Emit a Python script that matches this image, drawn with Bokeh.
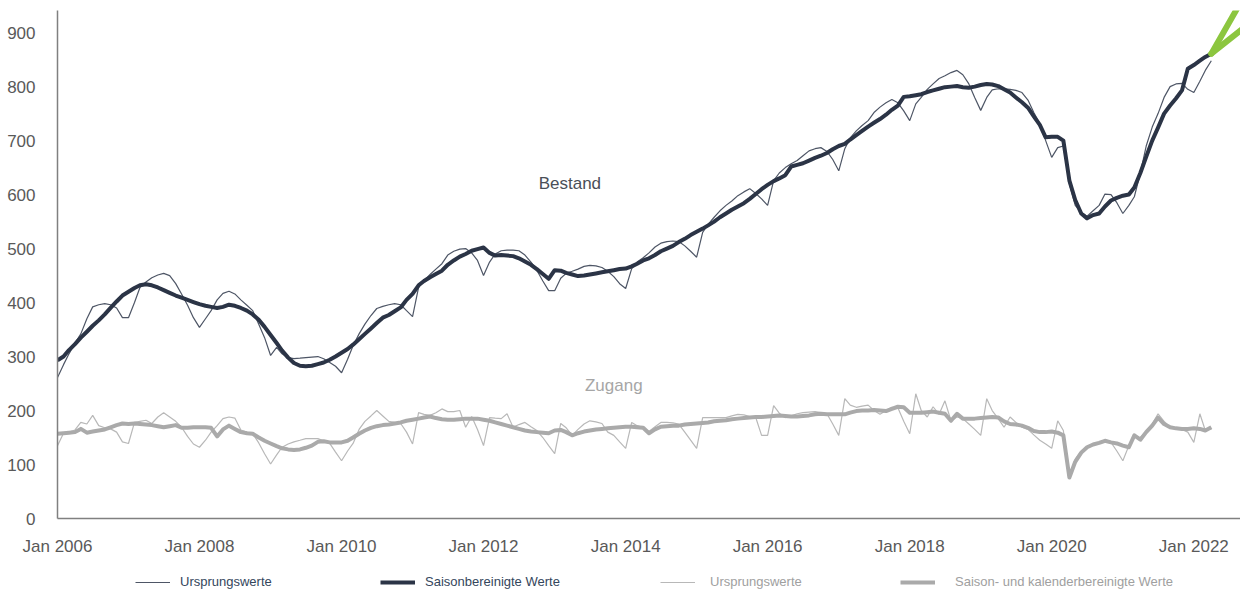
import pandas as pd
from datetime import datetime
from bokeh.plotting import figure
from bokeh.layouts import column
from bokeh.models import (FixedTicker, DatetimeTickFormatter, Legend, LegendItem,
                          Label, Range1d)
from bokeh.embed import file_html
from bokeh.resources import INLINE

# ---------------- data (monthly, Jan 2006 .. Apr 2022) ----------------
first_month = "2006-01-01"

# Bestand, saisonbereinigte Werte
bestand_sa = [
    293, 300, 312, 323, 335, 346, 357, 367, 378, 390, 402, 413,   # 2006
    420, 427, 432, 434, 432, 428, 423, 418, 413, 409, 405, 401,   # 2007
    397, 394, 392, 390, 392, 396, 394, 390, 385, 378, 368, 355,   # 2008
    340, 325, 311, 298, 288, 283, 282, 283, 286, 289, 294, 300,   # 2009
    307, 314, 322, 332, 342, 352, 362, 372, 377, 384, 391, 405,   # 2010
    416, 432, 440, 447, 453, 459, 470, 478, 485, 490, 496, 499,   # 2011
    502, 492, 487, 488, 487, 486, 482, 476, 470, 462, 453, 444,   # 2012
    460, 459, 455, 452, 449, 450, 452, 454, 456, 458, 460, 462,   # 2013
    463, 467, 472, 478, 482, 488, 495, 500, 505, 512, 518, 525,   # 2014
    531, 537, 543, 550, 558, 565, 572, 578, 584, 592, 601, 610,   # 2015
    618, 625, 630, 636, 652, 655, 658, 663, 668, 672, 677, 684,   # 2016
    690, 694, 702, 710, 718, 726, 733, 740, 748, 757, 765, 781,   # 2017
    782, 784, 786, 790, 793, 796, 799, 800, 801, 799, 798, 800,   # 2018
    803, 805, 804, 801, 795, 789, 780, 771, 761, 745, 729, 706,   # 2019
    707, 707, 700, 626, 590, 565, 556, 562, 565, 578, 589, 594,   # 2020
    598, 600, 613, 640, 670, 700, 724, 750, 765, 778, 793, 833,   # 2021
    840, 848, 855, 861,                                           # 2022
]

# Bestand, Ursprungswerte
bestand_orig = [
    261, 285, 305, 325, 342, 370, 392, 396, 398, 396, 390, 372,   # 2006
    372, 400, 428, 438, 446, 451, 454, 450, 435, 416, 395, 372,   # 2007
    354, 370, 385, 405, 417, 421, 416, 405, 395, 385, 360, 335,   # 2008
    302, 317, 305, 298, 296, 297, 298, 299, 300, 296, 289, 282,   # 2009
    270, 295, 320, 342, 360, 376, 389, 393, 396, 398, 396, 385,   # 2010
    374, 428, 440, 452, 462, 472, 488, 495, 499, 500, 492, 478,   # 2011
    450, 475, 490, 496, 497, 497, 496, 488, 475, 460, 440, 422,   # 2012
    422, 445, 454, 458, 462, 467, 469, 468, 465, 458, 448, 435,   # 2013
    426, 463, 475, 483, 492, 503, 510, 513, 514, 513, 505, 495,   # 2014
    484, 530, 545, 558, 570, 580, 588, 598, 605, 611, 602, 592,   # 2015
    580, 626, 640, 650, 657, 663, 672, 681, 685, 687, 680, 665,   # 2016
    644, 685, 705, 718, 728, 737, 752, 762, 770, 776, 770, 755,   # 2017
    737, 768, 780, 795, 805, 815, 820, 826, 830, 822, 805, 780,   # 2018
    756, 780, 794, 796, 796, 795, 793, 789, 775, 752, 731, 700,   # 2019
    669, 687, 690, 620, 580, 567, 560, 570, 580, 601, 600, 585,   # 2020
    565, 580, 596, 640, 690, 725, 750, 780, 800, 805, 806, 795,   # 2021
    789, 810, 830, 848,                                           # 2022
]

# Zugang, saison- und kalenderbereinigte Werte
zugang_sa = [
    157, 158, 159, 160, 166, 159, 161, 163, 165, 169, 173, 176,   # 2006
    175, 176, 175, 174, 173, 171, 169, 171, 173, 168, 168, 169,   # 2007
    169, 169, 168, 152, 165, 172, 166, 160, 158, 157, 150, 144,   # 2008
    139, 134, 130, 128, 127, 128, 131, 135, 142, 143, 141, 141,   # 2009
    141, 144, 150, 157, 163, 168, 171, 173, 174, 176, 178, 181,   # 2010
    183, 185, 187, 189, 186, 184, 183, 183, 184, 185, 185, 185,   # 2011
    183, 181, 178, 175, 172, 169, 166, 163, 161, 160, 159, 158,   # 2012
    163, 164, 160, 154, 158, 161, 163, 165, 166, 167, 168, 169,   # 2013
    170, 170, 169, 168, 158, 165, 170, 171, 172, 172, 174, 175,   # 2014
    176, 177, 178, 180, 181, 182, 184, 185, 186, 187, 188, 188,   # 2015
    189, 190, 191, 190, 189, 189, 190, 191, 193, 194, 193, 193,   # 2016
    193, 193, 196, 199, 200, 200, 201, 200, 199, 203, 207, 206,   # 2017
    196, 196, 196, 197, 198, 196, 194, 181, 194, 185, 185, 185,   # 2018
    186, 187, 188, 187, 180, 175, 174, 172, 168, 162, 160, 160,   # 2019
    161, 159, 154, 76, 105, 122, 132, 137, 140, 144, 141, 139,    # 2020
    135, 132, 154, 146, 160, 172, 187, 175, 169, 167, 166, 166,   # 2021
    167, 166, 163, 169,                                           # 2022
]

# Zugang, Ursprungswerte
zugang_orig = [
    135, 158, 160, 164, 178, 175, 191, 172, 168, 166, 160, 142,   # 2006
    139, 178, 180, 182, 176, 188, 196, 188, 180, 169, 152, 138,   # 2007
    132, 145, 160, 172, 185, 188, 186, 164, 160, 157, 140, 120,   # 2008
    101, 118, 132, 138, 142, 145, 148, 148, 148, 144, 139, 123,   # 2009
    107, 125, 139, 165, 180, 190, 200, 190, 180, 178, 176, 160,   # 2010
    138, 196, 193, 191, 196, 203, 198, 198, 200, 169, 189, 165,   # 2011
    135, 187, 186, 185, 194, 169, 174, 178, 170, 163, 150, 135,   # 2012
    120, 176, 168, 154, 165, 175, 181, 179, 176, 160, 154, 142,   # 2013
    130, 178, 172, 168, 161, 170, 178, 178, 177, 175, 160, 145,   # 2014
    130, 187, 187, 187, 187, 187, 190, 193, 192, 189, 187, 154,   # 2015
    154, 209, 195, 187, 190, 194, 196, 197, 198, 196, 194, 175,   # 2016
    154, 222, 210, 206, 208, 210, 200, 193, 200, 206, 205, 180,   # 2017
    157, 231, 200, 188, 207, 193, 218, 181, 188, 185, 175, 165,   # 2018
    154, 222, 200, 185, 169, 188, 178, 169, 165, 155, 145, 138,   # 2019
    130, 181, 163, 76, 110, 125, 133, 138, 141, 145, 141, 125,    # 2020
    107, 135, 151, 150, 162, 175, 194, 180, 169, 167, 165, 160,   # 2021
    141, 194, 163, 166,                                           # 2022
]

tick_years = [2006, 2008, 2010, 2012, 2014, 2016, 2018, 2020, 2022]
y_ticks = [0, 100, 200, 300, 400, 500, 600, 700, 800, 900]

legend_labels = ["Ursprungswerte", "Saisonbereinigte Werte",
                 "Ursprungswerte", "Saison- und kalenderbereinigte Werte"]

# ---------------- styling ----------------
C_BEST_SA = "#2b3446"
C_BEST_OR = "#4e5666"
C_ZUG_SA = "#aaaaaa"
C_ZUG_OR = "#b8b8b8"
C_AXIS = "#808080"
C_TICK = "#595959"
FONT = "Liberation Sans"

dates = pd.date_range(first_month, periods=len(bestand_sa), freq="MS")


def ms(ts):
    return pd.Timestamp(ts).timestamp() * 1000.0


p = figure(width=1240, height=566, x_axis_type="datetime",
           output_backend="svg", toolbar_location=None,
           x_range=Range1d(datetime(2006, 1, 1), datetime(2022, 8, 29)),
           y_range=Range1d(0, 941),
           min_border_left=57, min_border_right=0,
           min_border_top=10, min_border_bottom=48)
p.outline_line_color = None
p.grid.visible = False
p.background_fill_color = "white"
p.border_fill_color = "white"

r_zor = p.line(dates, zugang_orig, line_color=C_ZUG_OR, line_width=1.2)
r_zsa = p.line(dates, zugang_sa, line_color=C_ZUG_SA, line_width=4,
               line_join="round")
r_bor = p.line(dates, bestand_orig, line_color=C_BEST_OR, line_width=1.2)
r_bsa = p.line(dates, bestand_sa, line_color=C_BEST_SA, line_width=4,
               line_join="round")

# green pointer at the end of the Bestand series
last_d = dates[-1]
last_v = bestand_sa[-1]
arm_d = last_d + pd.DateOffset(months=8)
p.segment(x0=[last_d, last_d], y0=[last_v, last_v],
          x1=[arm_d, arm_d], y1=[last_v + 154, last_v + 70],
          line_color="#8cc63f", line_width=6, line_cap="round")

# axes
for ax in (p.xaxis, p.yaxis):
    ax.axis_line_color = C_AXIS
    ax.axis_line_width = 1.5
    ax.major_tick_line_color = None
    ax.minor_tick_line_color = None
    ax.major_label_text_font = FONT
    ax.major_label_text_font_size = "17px"
    ax.major_label_text_color = C_TICK

p.xaxis.ticker = FixedTicker(ticks=[ms(f"{y}-01-01") for y in tick_years])
p.xaxis.formatter = DatetimeTickFormatter(years="%b %Y", months="%b %Y",
                                          days="%b %Y", hours="%b %Y")
p.xaxis.major_label_standoff = 12
p.yaxis.ticker = FixedTicker(ticks=y_ticks)
p.yaxis.major_label_standoff = 16

# series labels
p.add_layout(Label(x=ms("2013-03-20"), y=620, text="Bestand",
                   text_align="center", text_baseline="middle",
                   text_font=FONT, text_font_size="17px",
                   text_color="#4a4f58"))
p.add_layout(Label(x=ms("2013-11-01"), y=246, text="Zugang",
                   text_align="center", text_baseline="middle",
                   text_font=FONT, text_font_size="17px",
                   text_color="#a6a6a6"))

# ---------------- legend strip below the chart ----------------
q = figure(width=1240, height=28, output_backend="svg", toolbar_location=None,
           x_range=Range1d(0, 1), y_range=Range1d(0, 1),
           x_axis_location=None, y_axis_location=None,
           min_border_left=0, min_border_right=0,
           min_border_top=0, min_border_bottom=0)
q.outline_line_color = None
q.grid.visible = False

FRAME_LEFT = 57  # the column aligns this strip's frame with the chart frame
styles = [
    (C_BEST_OR, 1.2, "#34465c", 135, 10),
    (C_BEST_SA, 4, "#34465c", 380, 10),
    (C_ZUG_OR, 1.2, "#a0a0a0", 660, 15),
    (C_ZUG_SA, 4, "#a0a0a0", 900, 20),
]
nan = float("nan")
for lab, (lc, lw, tc, xpage, standoff) in zip(legend_labels, styles):
    rr = q.line(x=[nan, nan], y=[nan, nan], line_color=lc, line_width=lw)
    lg = Legend(items=[LegendItem(label=lab, renderers=[rr])],
                location=(xpage - FRAME_LEFT, 5), orientation="horizontal",
                glyph_width=35, glyph_height=12, label_height=12,
                padding=0, margin=0, spacing=0, label_standoff=standoff,
                background_fill_alpha=0, border_line_alpha=0,
                label_text_font=FONT, label_text_font_size="13px",
                label_text_color=tc)
    q.add_layout(lg)

layout = column(p, q, spacing=0)
open("out.html", "w").write(file_html(layout, INLINE))
